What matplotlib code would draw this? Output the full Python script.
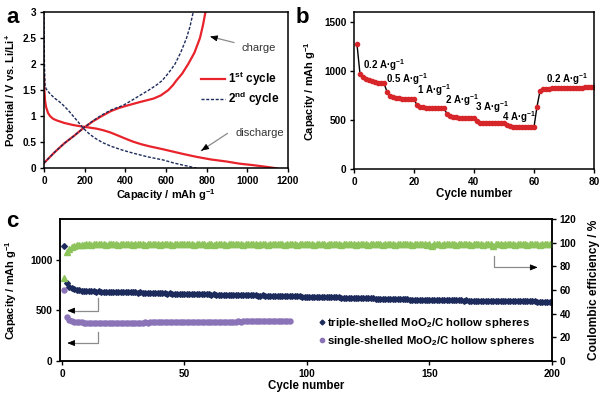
import matplotlib
matplotlib.use("Agg")
import matplotlib.pyplot as plt

plt.rcParams["font.family"] = ["Liberation Sans", "DejaVu Sans"]
plt.rcParams["font.weight"] = "bold"
plt.rcParams["axes.labelweight"] = "bold"
plt.rcParams["mathtext.fontset"] = "custom"
plt.rcParams["mathtext.rm"] = "Liberation Sans:bold"
plt.rcParams["mathtext.it"] = "Liberation Sans:bold"
plt.rcParams["mathtext.bf"] = "Liberation Sans:bold"
plt.rcParams["axes.linewidth"] = 1.1
plt.rcParams["xtick.major.width"] = 1.0
plt.rcParams["ytick.major.width"] = 1.0
plt.rcParams["xtick.major.size"] = 3
plt.rcParams["ytick.major.size"] = 3

RED = "#E8232B"
NAVY = "#1D2B5C"
GREEN = "#8DC35B"
PURPLE = "#8B73B8"
POINT_RED = "#D6262A"
ARROW_GRAY = "#8A8A8A"

TICK_FS = 7.2
LABEL_FS = 7.9

# ---- panel a: voltage profiles (capacity mAh/g, potential V)
dis1_cap = [0, 2, 5, 10, 20, 30, 45, 62, 100, 144, 190, 226, 260, 292, 325, 357, 400, 439, 480,
            521, 580, 635, 690, 750, 820, 898, 960, 1029, 1090, 1143]
dis1_v = [1.76, 1.5, 1.3, 1.18, 1.06, 1.0, 0.95, 0.92, 0.87, 0.83, 0.8, 0.78, 0.76, 0.73, 0.69, 0.64,
          0.57, 0.51, 0.46, 0.42, 0.37, 0.32, 0.27, 0.22, 0.17, 0.13, 0.09, 0.06, 0.03, 0.0]
chg1_cap = [0, 15, 50, 100, 150, 193, 240, 283, 330, 370, 414, 470, 510, 540, 575, 611, 635, 650,
            680, 709, 740, 767, 782, 794]
chg1_v = [0.1, 0.16, 0.3, 0.48, 0.63, 0.77, 0.9, 1.0, 1.1, 1.16, 1.21, 1.27, 1.31, 1.34, 1.4, 1.5,
          1.6, 1.68, 1.82, 2.0, 2.22, 2.5, 2.75, 3.0]
dis2_cap = [0, 1, 2, 5, 10, 21, 35, 54, 75, 95, 120, 144, 170, 193, 220, 250, 290, 332, 385, 439,
            510, 586, 640, 685, 720, 750]
dis2_v = [3.0, 2.4, 2.0, 1.6, 1.53, 1.47, 1.41, 1.34, 1.28, 1.21, 1.11, 1.0, 0.88, 0.77, 0.67, 0.58,
          0.49, 0.42, 0.35, 0.29, 0.22, 0.16, 0.1, 0.06, 0.03, 0.0]
chg2_cap = [0, 15, 50, 100, 150, 193, 240, 283, 330, 390, 430, 472, 515, 554, 580, 600, 622, 644,
            672, 701, 718, 734]
chg2_v = [0.1, 0.16, 0.3, 0.48, 0.63, 0.77, 0.91, 1.02, 1.12, 1.21, 1.3, 1.4, 1.5, 1.6, 1.68, 1.77,
          1.88, 2.0, 2.22, 2.5, 2.72, 3.0]

# ---- panel b: rate capability
rate_capacity = [
    1270, 969, 942, 920, 905, 895, 888, 882, 877, 874,
    789, 745, 732, 726, 722, 719, 716, 714, 712, 711,
    654, 637, 630, 627, 625, 624, 623, 622, 621, 620,
    562, 542, 532, 528, 526, 525, 524, 523, 522, 522,
    491, 475, 470, 468, 467, 467, 466, 466, 466, 466,
    447, 438, 435, 434, 433, 432, 432, 431, 431, 430,
    637, 796, 813, 818, 821, 823, 824, 825, 826, 827,
    828, 829, 830, 830, 831, 831, 832, 832, 832, 832,
]
rate_labels = ["0.2", "0.5", "1", "2", "3", "4", "0.2"]
rate_label_x = [3, 10.8, 21, 30.3, 40.3, 49.3, 64]
rate_label_y = [1060, 917, 800, 704, 633, 532, 917]

# ---- panel c: long cycling
triple_capacity = [
    1136, 765, 732, 718, 709, 703, 698, 694, 692, 690,
    689, 687, 688, 685, 686, 684, 685, 683, 684, 683,
    682, 680, 682, 679, 681, 678, 680, 677, 678, 676,
    675, 677, 674, 673, 675, 672, 671, 673, 669, 668,
    667, 668, 665, 666, 664, 665, 662, 663, 661, 661,
    660, 661, 659, 658, 659, 657, 658, 656, 657, 656,
    655, 656, 654, 653, 654, 652, 653, 651, 652, 650,
    650, 651, 649, 648, 649, 647, 648, 646, 646, 645,
    645, 646, 644, 643, 644, 642, 642, 641, 640, 639,
    640, 638, 639, 637, 637, 636, 636, 635, 634, 634,
    635, 633, 633, 632, 632, 631, 631, 630, 629, 628,
    628, 627, 627, 626, 625, 625, 624, 623, 623, 621,
    622, 620, 620, 619, 618, 618, 617, 616, 615, 614,
    615, 613, 613, 612, 611, 610, 610, 609, 608, 607,
    608, 606, 606, 605, 604, 604, 603, 602, 602, 601,
    601, 600, 600, 599, 600, 599, 598, 599, 598, 598,
    598, 597, 597, 596, 597, 596, 595, 595, 594, 594,
    594, 593, 594, 592, 593, 592, 591, 592, 591, 591,
    591, 590, 590, 589, 590, 589, 588, 589, 588, 588,
    588, 587, 587, 586, 586, 585, 585, 584, 585, 584,
]
single_capacity = [
    700, 437, 404, 394, 388, 384, 382, 380, 379, 378,
    377, 376, 377, 375, 376, 375, 374, 375, 374, 374,
    375, 374, 376, 375, 376, 377, 376, 378, 377, 378,
    378, 379, 378, 380, 379, 380, 381, 380, 381, 381,
    382, 381, 382, 383, 382, 383, 383, 384, 383, 384,
    384, 385, 384, 385, 385, 386, 385, 386, 386, 387,
    386, 387, 387, 388, 387, 388, 388, 389, 388, 389,
    389, 390, 389, 390, 390, 391, 390, 391, 390, 391,
    391, 390, 391, 392, 391, 390, 391, 392, 391, 390,
    391, 390, 391,
]
coulombic_eff = [
    69.8, 92.0, 95.0, 96.5, 97.4, 97.8, 98.1, 98.3, 98.4, 98.5,
    98.6, 98.4, 98.7, 98.5, 98.8, 98.5, 98.6, 98.4, 98.7, 98.6,
    98.5, 98.7, 98.4, 98.6, 98.8, 98.5, 98.6, 98.7, 98.4, 98.6,
    98.7, 98.5, 98.6, 98.4, 98.8, 98.6, 98.5, 98.7, 98.6, 98.4,
    98.6, 98.7, 98.5, 98.6, 98.4, 98.7, 98.6, 98.8, 98.5, 98.6,
    98.5, 98.6, 98.8, 98.4, 98.7, 98.5, 98.6, 98.7, 98.4, 98.6,
    98.7, 98.4, 98.6, 98.5, 98.8, 98.6, 98.4, 98.7, 98.5, 98.6,
    98.6, 98.5, 98.7, 98.4, 98.6, 98.8, 98.5, 98.6, 98.7, 98.4,
    98.5, 98.7, 98.6, 98.4, 98.6, 98.5, 98.8, 98.6, 98.5, 98.7,
    98.4, 98.6, 98.7, 98.5, 98.6, 98.4, 98.7, 98.6, 98.5, 98.8,
    98.6, 98.5, 98.4, 98.7, 98.6, 98.5, 98.7, 98.4, 98.6, 98.6,
    98.5, 98.7, 98.6, 98.4, 98.8, 98.5, 98.6, 98.7, 98.5, 98.4,
    98.6, 98.7, 98.5, 98.6, 98.4, 98.7, 98.6, 98.5, 98.8, 98.6,
    98.4, 98.6, 98.7, 98.5, 98.6, 98.4, 98.7, 98.6, 98.5, 98.7,
    98.6, 98.5, 98.4, 98.7, 98.6, 98.5, 98.6, 98.7, 98.4, 98.6,
    97.3, 98.5, 98.7, 98.6, 98.4, 98.6, 98.5, 98.7, 98.6, 98.5,
    98.4, 98.7, 98.6, 98.5, 98.6, 98.8, 98.4, 98.6, 98.7, 98.5,
    98.6, 98.4, 98.7, 98.5, 98.6, 97.0, 98.5, 98.6, 98.7, 98.4,
    98.6, 98.5, 98.7, 98.6, 98.4, 98.6, 98.7, 98.5, 98.6, 98.4,
    98.7, 98.5, 98.6, 98.6, 98.4, 98.7, 98.5, 98.6, 98.7, 98.5,
]

HEAD = "-|>,head_length=0.45,head_width=0.18"


def style_axes(ax):
    ax.tick_params(direction="out", labelsize=TICK_FS, pad=2.5)
    for lab in ax.get_xticklabels() + ax.get_yticklabels():
        lab.set_fontweight("bold")


def gray_arrow(ax, tail, head):
    # gray shaft, black head
    ax.annotate("", xy=head, xytext=tail, arrowprops=dict(arrowstyle="-", color=ARROW_GRAY, lw=0.9))
    hx = head[0] + (tail[0] - head[0]) * 0.18
    hy = head[1] + (tail[1] - head[1]) * 0.18
    ax.annotate("", xy=head, xytext=(hx, hy), arrowprops=dict(arrowstyle=HEAD, color="black", lw=0.6))


def main():
    fig = plt.figure(figsize=(6.0, 3.98), dpi=100)

    # ---------------- a
    ax = fig.add_axes([44 / 600, 1 - 168.3 / 398, 244 / 600, 156.3 / 398])
    ax.plot(dis1_cap, dis1_v, color=RED, lw=1.6, label="1$^{st}$ cycle")
    ax.plot(chg1_cap, chg1_v, color=RED, lw=1.6)
    ax.plot(dis2_cap, dis2_v, color=NAVY, lw=1.0, ls=(0, (2.2, 1.2)), label="2$^{nd}$ cycle")
    ax.plot(chg2_cap, chg2_v, color=NAVY, lw=1.0, ls=(0, (2.2, 1.2)))
    ax.set_xlim(0, 1200)
    ax.set_ylim(0, 3)
    ax.set_xticks(range(0, 1201, 200))
    ax.set_yticks([0, 0.5, 1, 1.5, 2, 2.5, 3])
    ax.set_yticklabels(["0", "0.5", "1", "1.5", "2", "2.5", "3"])
    ax.set_xlabel("Capacity / mAh g$^{-1}$", fontsize=LABEL_FS, labelpad=1)
    ax.set_ylabel("Potential / V vs. Li/Li$^{+}$", fontsize=LABEL_FS, labelpad=4)
    style_axes(ax)
    leg = ax.legend(loc="upper left", bbox_to_anchor=(0.62, 0.67), frameon=False, fontsize=8.5,
                    handlelength=2.0, handletextpad=0.3, labelspacing=0.2, borderpad=0)
    for t in leg.get_texts():
        t.set_fontweight("bold")
    ax.text(973, 2.31, "charge", fontsize=8, fontweight="normal", va="center", color="#333333")
    gray_arrow(ax, (948, 2.40), (816, 2.53))
    ax.text(943, 0.67, "discharge", fontsize=8, fontweight="normal", va="center", color="#333333")
    gray_arrow(ax, (914, 0.70), (762, 0.31))

    # ---------------- b
    bx = fig.add_axes([354 / 600, 1 - 169.3 / 398, 240 / 600, 157.4 / 398])
    cycles_b = list(range(1, len(rate_capacity) + 1))
    bx.plot(cycles_b, rate_capacity, color="black", lw=1.0, marker="o", ms=3.0,
            mfc=POINT_RED, mec=POINT_RED)
    bx.set_xlim(0, 80)
    bx.set_ylim(0, 1600)
    bx.set_xticks([0, 20, 40, 60, 80])
    bx.set_yticks([0, 500, 1000, 1500])
    bx.set_xlabel("Cycle number", fontsize=LABEL_FS + 0.4, labelpad=1)
    bx.set_ylabel("Capacity / mAh g$^{-1}$", fontsize=LABEL_FS, labelpad=4)
    style_axes(bx)
    for lab, x, y in zip(rate_labels, rate_label_x, rate_label_y):
        bx.text(x, y, lab + " A·g$^{-1}$", fontsize=7, fontweight="bold", va="center", ha="left")

    # ---------------- c
    cx = fig.add_axes([60 / 600, 1 - 361 / 398, 492 / 600, 142 / 398])
    cx2 = cx.twinx()
    cycles_t = list(range(1, len(triple_capacity) + 1))
    cycles_s = list(range(1, len(single_capacity) + 1))
    cycles_ce = list(range(1, len(coulombic_eff) + 1))
    cx2.plot(cycles_ce, coulombic_eff, ls="none", marker="^", ms=3.8, color=GREEN, mec=GREEN)
    h1, = cx.plot(cycles_t, triple_capacity, ls="none", marker="D", ms=2.9, color=NAVY, mec=NAVY,
                  label="triple-shelled MoO$_2$/C hollow spheres")
    h2, = cx.plot(cycles_s, single_capacity, ls="none", marker="o", ms=3.6, color=PURPLE, mec=PURPLE,
                  label="single-shelled MoO$_2$/C hollow spheres")
    cx.set_xlim(-0.8, 200)
    cx.set_ylim(0, 1400)
    cx2.set_ylim(0, 120)
    cx.set_xticks([0, 50, 100, 150, 200])
    cx.set_yticks([0, 500, 1000])
    cx2.set_yticks(range(0, 121, 20))
    cx.set_xlabel("Cycle number", fontsize=LABEL_FS + 0.4, labelpad=1)
    cx.set_ylabel("Capacity / mAh g$^{-1}$", fontsize=LABEL_FS, labelpad=8)
    cx2.set_ylabel("Coulombic efficiency / %", fontsize=8.6, labelpad=8)
    style_axes(cx)
    style_axes(cx2)
    leg = cx.legend(handles=[h1, h2], loc="upper left", bbox_to_anchor=(0.516, 0.355), frameon=False,
                    fontsize=8.2, handlelength=0.5, handletextpad=0.15, labelspacing=0.35,
                    borderpad=0, markerscale=0.85)
    for t in leg.get_texts():
        t.set_fontweight("bold")

    # pointer arrows to axes (elbow lines)
    for top, bottom in [(618, 496), (289, 177)]:
        cx.plot([14.7, 14.7, 3.5], [top, bottom, bottom], color=ARROW_GRAY, lw=0.9)
        cx.annotate("", xy=(1.0, bottom), xytext=(4.5, bottom), arrowprops=dict(arrowstyle=HEAD, color="black", lw=0.6))
    cx.plot([176.3, 176.3, 192.5], [1037, 923, 923], color=ARROW_GRAY, lw=0.9)
    cx.annotate("", xy=(195.3, 923), xytext=(191.5, 923), arrowprops=dict(arrowstyle=HEAD, color="black", lw=0.6))

    # panel letters
    fig.text(0.010, 0.957, "a", fontsize=16, fontweight="bold", va="center")
    fig.text(0.493, 0.957, "b", fontsize=16, fontweight="bold", va="center")
    fig.text(0.010, 0.443, "c", fontsize=16, fontweight="bold", va="center")

    fig.savefig("out.png", dpi=100)
    plt.close(fig)


if __name__ == "__main__":
    main()
